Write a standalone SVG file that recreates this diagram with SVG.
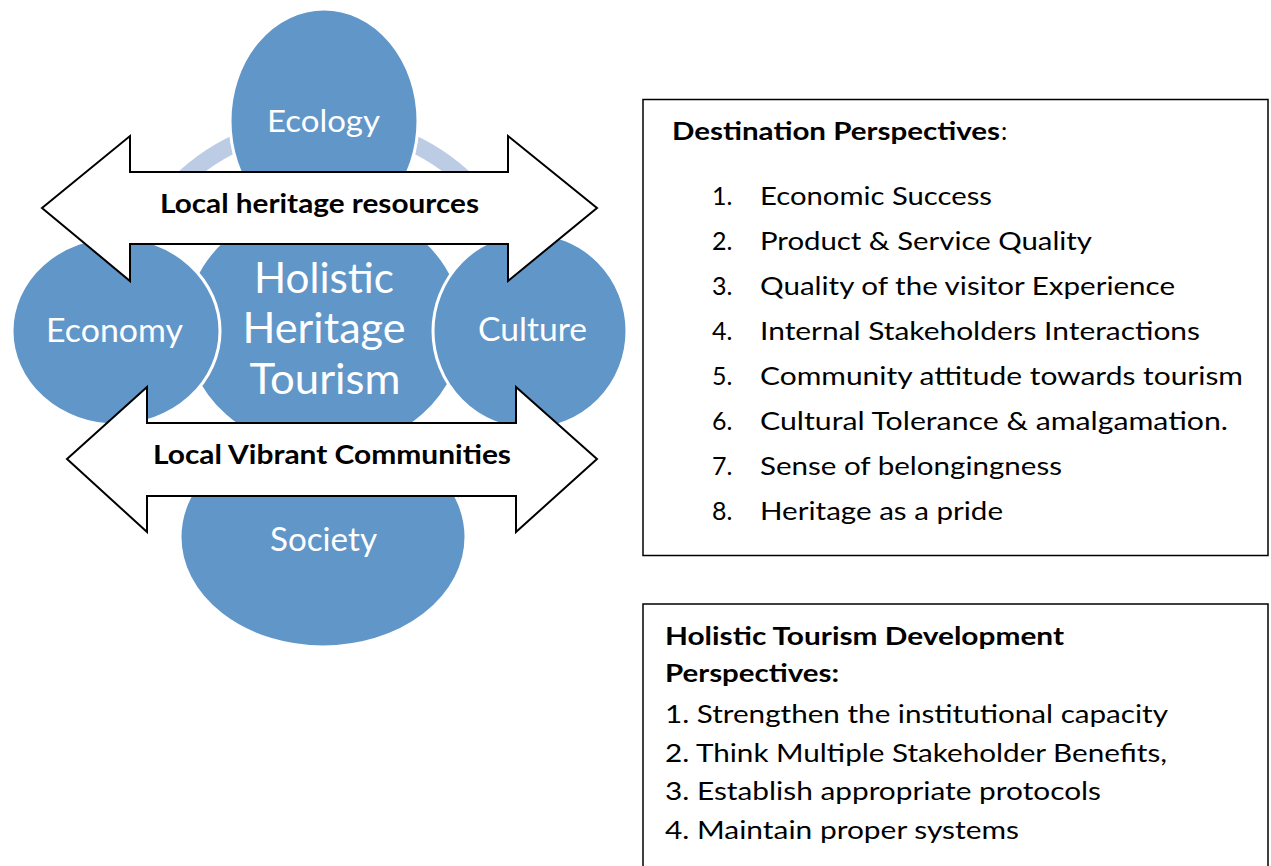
<svg xmlns="http://www.w3.org/2000/svg" width="1271" height="866" viewBox="0 0 1271 866">
<defs>
<style>
.circ{fill:#6196C9;stroke:#FFFFFF;stroke-width:3}
.ctext{font-family:Lato,"Open Sans","Liberation Sans",sans-serif;fill:#FFFFFF;text-anchor:middle}
.arrow{fill:#FFFFFF;stroke:#000000;stroke-width:2;stroke-linejoin:miter}
.atext{font-family:Lato,"Open Sans","Liberation Sans",sans-serif;font-weight:bold;font-size:26px;fill:#000000;text-anchor:middle}
.box{fill:#FFFFFF;stroke:#000000;stroke-width:1.5}
.btext{font-family:Lato,"Open Sans","Liberation Sans",sans-serif;font-size:25px;fill:#000000}
.bold{font-weight:bold}
</style>
</defs>
<rect width="1271" height="866" fill="#FFFFFF"/>
<g id="ring">
<circle cx="324" cy="330" r="206.5" fill="none" stroke="#BBCCE4" stroke-width="17"/>
</g>
<g id="node-center">
<ellipse class="circ" cx="324" cy="327" rx="140" ry="125"/>
<text class="ctext" font-size="42" x="324" y="293" textLength="140" lengthAdjust="spacingAndGlyphs">Holistic</text>
<text class="ctext" font-size="42" x="324" y="343" textLength="163" lengthAdjust="spacingAndGlyphs">Heritage</text>
<text class="ctext" font-size="42" x="325" y="394" textLength="151" lengthAdjust="spacingAndGlyphs">Tourism</text>
</g>
<g id="node-ecology">
<ellipse class="circ" cx="324" cy="121" rx="94" ry="112"/>
<text class="ctext" font-size="31" x="323.5" y="132" textLength="113" lengthAdjust="spacingAndGlyphs">Ecology</text>
</g>
<g id="node-economy">
<ellipse class="circ" cx="116" cy="331" rx="104" ry="94"/>
<text class="ctext" font-size="32" x="114.5" y="342" textLength="137" lengthAdjust="spacingAndGlyphs">Economy</text>
</g>
<g id="node-culture">
<ellipse class="circ" cx="530" cy="331" rx="97" ry="98"/>
<text class="ctext" font-size="32" x="532.5" y="341" textLength="109" lengthAdjust="spacingAndGlyphs">Culture</text>
</g>
<g id="node-society">
<ellipse class="circ" cx="323" cy="537" rx="143" ry="110"/>
<text class="ctext" font-size="32" x="323.5" y="551" textLength="107" lengthAdjust="spacingAndGlyphs">Society</text>
</g>
<g id="connectors">
<g id="arrow-heritage">
<path class="arrow" d="M42,208 L130,136 L130,172 L508,172 L508,136 L597,208 L508,281 L508,244 L130,244 L130,281 Z"/>
<text class="atext" x="319.5" y="213" textLength="319" lengthAdjust="spacingAndGlyphs">Local heritage resources</text>
</g>
<g id="arrow-communities">
<path class="arrow" d="M67,459 L147,387 L147,423 L516,423 L516,387 L597,459 L516,532 L516,496 L147,496 L147,532 Z"/>
<text class="atext" x="332" y="464" textLength="358" lengthAdjust="spacingAndGlyphs">Local Vibrant Communities</text>
</g>
</g>
<g id="node-destination">
<rect class="box" x="643" y="99.5" width="625" height="456"/>
<text class="btext bold" x="672" y="140" textLength="328" lengthAdjust="spacingAndGlyphs">Destination Perspectives</text>
<text class="btext" x="1001" y="140">:</text>
<text class="btext" x="712" y="205">1.</text>
<text class="btext" x="760" y="205" textLength="232" lengthAdjust="spacingAndGlyphs">Economic Success</text>
<text class="btext" x="712" y="250">2.</text>
<text class="btext" x="760" y="250" textLength="332" lengthAdjust="spacingAndGlyphs">Product &amp; Service Quality</text>
<text class="btext" x="712" y="295">3.</text>
<text class="btext" x="760" y="295" textLength="415" lengthAdjust="spacingAndGlyphs">Quality of the visitor Experience</text>
<text class="btext" x="712" y="340">4.</text>
<text class="btext" x="760" y="340" textLength="440" lengthAdjust="spacingAndGlyphs">Internal Stakeholders Interactions</text>
<text class="btext" x="712" y="385">5.</text>
<text class="btext" x="760" y="385" textLength="483" lengthAdjust="spacingAndGlyphs">Community attitude towards tourism</text>
<text class="btext" x="712" y="430">6.</text>
<text class="btext" x="760" y="430" textLength="468" lengthAdjust="spacingAndGlyphs">Cultural Tolerance &amp; amalgamation.</text>
<text class="btext" x="712" y="475">7.</text>
<text class="btext" x="760" y="475" textLength="302" lengthAdjust="spacingAndGlyphs">Sense of belongingness</text>
<text class="btext" x="712" y="520">8.</text>
<text class="btext" x="760" y="520" textLength="243" lengthAdjust="spacingAndGlyphs">Heritage as a pride</text>
</g>
<g id="node-holistic">
<rect class="box" x="643" y="604" width="625" height="300"/>
<text class="btext bold" x="665" y="645" textLength="399" lengthAdjust="spacingAndGlyphs">Holistic Tourism Development</text>
<text class="btext bold" x="665" y="682" textLength="174" lengthAdjust="spacingAndGlyphs">Perspectives:</text>
<text class="btext" x="665" y="723" textLength="503" lengthAdjust="spacingAndGlyphs">1. Strengthen the institutional capacity</text>
<text class="btext" x="665" y="762" textLength="502" lengthAdjust="spacingAndGlyphs">2. Think Multiple Stakeholder Benefits,</text>
<text class="btext" x="665" y="800" textLength="436" lengthAdjust="spacingAndGlyphs">3. Establish appropriate protocols</text>
<text class="btext" x="665" y="839" textLength="354" lengthAdjust="spacingAndGlyphs">4. Maintain proper systems</text>
</g>
</svg>
